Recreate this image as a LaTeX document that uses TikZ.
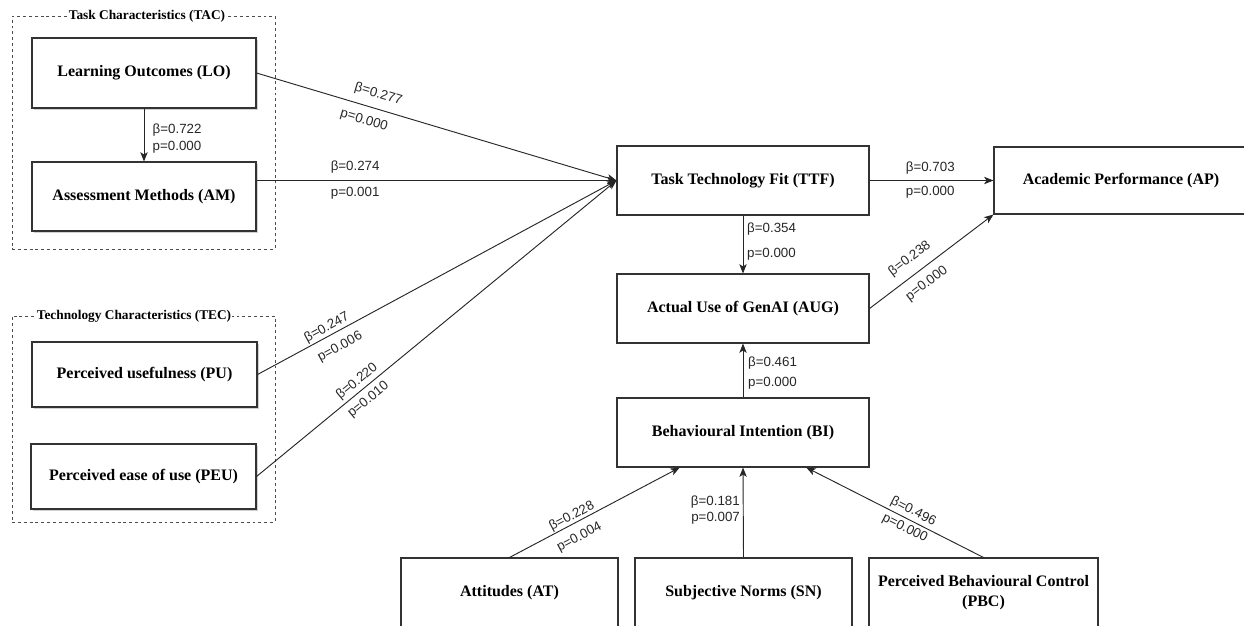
\documentclass[tikz,border=0pt]{standalone}
\usepackage{fontspec}
\setmainfont{Liberation Serif}
\setsansfont{Liberation Sans}
\usetikzlibrary{arrows.meta,fit,shadows,calc}
\begin{document}
\begin{tikzpicture}[x=0.75pt,y=-0.75pt,
 box/.style={draw=black!80, line width=0.8pt, inner sep=0pt, fill=white, font=\bfseries\fontsize{12}{15}\selectfont, align=center, text=black},
 shbox/.style={box, drop shadow={shadow xshift=1.5pt, shadow yshift=-1.5pt, opacity=0.3, fill=black!60}},
 group/.style={draw=black!70, line width=0.7pt, dash pattern=on 2.2pt off 2.2pt, inner sep=0pt},
 grouptitle/.style={fill=white, inner sep=1pt, font=\bfseries\fontsize{10}{12}\selectfont},
 conn/.style={draw=black!85, line width=0.7pt, -{Stealth[length=7pt,width=5.5pt,inset=1.8pt]}},
 lab/.style={font=\sffamily\fontsize{10}{12}\selectfont, text=black!85, inner sep=0pt}
]
\useasboundingbox (0,0) rectangle (1244,625);
\clip (0,0) rectangle (1244,625);

% groups
\node[group, fit={(12,16)(275,249)}] (TAC) {};
\node[grouptitle] (TACt) at (147,16) {Task Characteristics (TAC)};
\node[group, fit={(12,316)(275,522)}] (TEC) {};
\node[grouptitle] (TECt) at (134,316) {Technology Characteristics (TEC)};

% nodes
\node[shbox, minimum width=168pt, minimum height=52.5pt] (LO) at (144,73) {Learning Outcomes (LO)};
\node[shbox, minimum width=168pt, minimum height=51.75pt] (AM) at (144,196.5) {Assessment Methods (AM)};
\node[shbox, minimum width=168.75pt, minimum height=48.75pt] (PU) at (144.5,374.5) {Perceived usefulness (PU)};
\node[shbox, minimum width=168.75pt, minimum height=48.75pt] (PEU) at (143.5,476.5) {Perceived ease of use (PEU)};
\node[box, minimum width=189pt, minimum height=51.75pt] (TTF) at (743,180.5) {Task Technology Fit (TTF)};
\node[box, minimum width=189pt, minimum height=51.75pt] (AUG) at (743,308.5) {Actual Use of GenAI (AUG)};
\node[box, minimum width=189pt, minimum height=51.75pt] (BI) at (743,432.5) {Behavioural Intention (BI)};
\node[box, minimum width=190.5pt, minimum height=50.25pt] (AP) at (1121,180.5) {Academic Performance (AP)};
\node[box, minimum width=162.75pt, minimum height=52.5pt] (AT) at (509.5,593) {Attitudes (AT)};
\node[box, minimum width=162.75pt, minimum height=52.5pt] (SN) at (743.5,593) {Subjective Norms (SN)};
\node[box, minimum width=171.75pt, minimum height=52.5pt] (PBC) at (983.5,593) {Perceived Behavioural Control\\(PBC)};

% connectors
\draw[conn] (LO.south) -- (AM.north)
  node[lab, anchor=west, xshift=6.2pt, pos=0.407] {β=0.722}
  node[lab, anchor=west, xshift=6.2pt, pos=0.74] {p=0.000};
\draw[conn] (LO.east) -- (TTF.west)
  node[lab, sloped, above=5.8pt, pos=0.327] {β=0.277}
  node[lab, sloped, below=6.2pt, pos=0.31] {p=0.000};
\draw[conn] (AM.east |- TTF.west) -- (TTF.west)
  node[lab, above=5pt, pos=0.274] {β=0.274}
  node[lab, below=4.3pt, pos=0.274] {p=0.001};
\draw[conn] (PU.east) -- (TTF.west)
  node[lab, sloped, above=1.1pt, pos=0.204] {β=0.247}
  node[lab, sloped, below=6.5pt, pos=0.21] {p=0.006};
\draw[conn] (PEU.east) -- (TTF.west)
  node[lab, sloped, above=2pt, pos=0.296] {β=0.220}
  node[lab, sloped, below=4.2pt, pos=0.29] {p=0.010};
\draw[conn] (TTF.east) -- (AP.west)
  node[lab, above=4.7pt, pos=0.49] {β=0.703}
  node[lab, below=3.9pt, pos=0.49] {p=0.000};
\draw[conn] (TTF.south) -- (AUG.north)
  node[lab, anchor=west, xshift=2.8pt, pos=0.237] {β=0.354}
  node[lab, anchor=west, xshift=2.8pt, pos=0.66] {p=0.000};
\draw[conn] (AUG.east) -- (AP.south west)
  node[lab, sloped, above=6.5pt, pos=0.40] {β=0.238}
  node[lab, sloped, below=6.3pt, pos=0.39] {p=0.000};
\draw[conn] (BI.north) -- (AUG.south)
  node[lab, anchor=west, xshift=3.5pt, pos=0.636] {β=0.461}
  node[lab, anchor=west, xshift=3.5pt, pos=0.273] {p=0.000};
\draw[conn] (AT.north) -- ($(BI.south)!0.5!(BI.south west)$)
  node[lab, sloped, above=0.3pt, pos=0.386] {β=0.228}
  node[lab, sloped, below=6.3pt, pos=0.37] {p=0.004};
\draw[conn] (SN.north) -- (BI.south)
  node[lab, anchor=east, xshift=-2.2pt, pos=0.615] {β=0.181}
  node[lab, anchor=east, xshift=-2.2pt, pos=0.44] {p=0.007};
\draw[conn] (PBC.north) -- ($(BI.south)!0.5!(BI.south east)$)
  node[lab, sloped, above=1.8pt, pos=0.42] {β=0.496}
  node[lab, sloped, below=2.3pt, pos=0.42] {p=0.000};
\end{tikzpicture}
\end{document}
